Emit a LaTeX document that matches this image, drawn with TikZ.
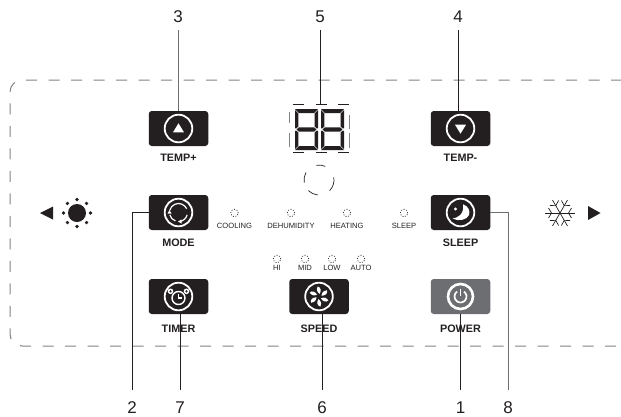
\documentclass[tikz,border=0pt]{standalone}
\usepackage{fontspec}
\setmainfont{Liberation Sans}
\usetikzlibrary{positioning}
\definecolor{inkblack}{HTML}{231F20}
\definecolor{powergray}{HTML}{6D6E71}
\definecolor{panelgray}{HTML}{808285}
\begin{document}
\begin{tikzpicture}[x=1pt,y=1pt,line cap=butt]
    \tikzstyle{button}=[rectangle,rounded corners=3pt,fill=inkblack,minimum width=59.5pt,minimum height=35pt,inner sep=0pt]
    \tikzstyle{button label}=[font=\bfseries\fontsize{10.8}{11}\selectfont,text=inkblack,inner sep=0pt]
    \tikzstyle{led label}=[font=\fontsize{7.6}{8}\selectfont,text=inkblack,inner sep=0pt]
    \tikzstyle{led}=[circle,draw=inkblack,line width=0.7pt,dash pattern=on 1pt off 1.6pt,minimum size=7.5pt,inner sep=0pt]
    \tikzstyle{callout}=[font=\fontsize{17}{18}\selectfont,text=inkblack,inner sep=0pt]
    \tikzstyle{leader}=[draw=inkblack,line width=0.8pt]
    \tikzstyle{leader gray}=[draw=powergray,line width=1pt]
    \tikzstyle{ring}=[draw=white,line width=1.8pt]
    \tikzstyle{icon}=[draw=white,line width=1.2pt]
    \tikzstyle{segment}=[fill=inkblack]
    \tikzstyle{ghost}=[draw=panelgray,line width=1pt]
    \useasboundingbox (0,0) rectangle (621,-416);

    % Draw the panel outline
    \draw[panelgray,line width=1pt,dash pattern=on 11pt off 11.5pt,dash phase=1pt,rounded corners=12pt]
        (621,-80) -- (10,-80) -- (10,-346) -- (621,-346);

    % Draw the buttons and their labels
    \foreach \name / \x / \y in {tempup/178.5/128.5,tempdown/460.5/128.5,mode/178.5/212.5,sleep/460.5/212.5,timer/178.5/296.5,speed/319/296.5}
        \node[button] (B-\name) at (\x,-\y) {};
    \node[button,fill=powergray] (B-power) at (460.5,-296.5) {};
    \node[button label] (T-tempup) at (178.5,-158) {TEMP+};
    \node[button label] (T-tempdown) at (460.5,-158) {TEMP-};
    \node[button label] (T-mode) at (178.5,-243) {MODE};
    \node[button label] (T-sleep) at (460.5,-243) {SLEEP};
    \node[button label] (T-timer) at (178.5,-329) {TIMER};
    \node[button label] (T-speed) at (319,-329) {SPEED};
    \node[button label] (T-power) at (460.5,-329) {POWER};

    % Draw the rings of the button icons
    \foreach \name in {tempup,tempdown,mode,sleep,timer,speed}
        \draw[ring] (B-\name.center) circle (13.8);

    % Temperature arrows
    \begin{scope}[shift={(B-tempup.center)}]
        \fill[white] (-5.5,-3.8) -- (5.5,-3.8) -- (0,5.2) -- cycle;
    \end{scope}
    \begin{scope}[shift={(B-tempdown.center)}]
        \fill[white] (-5.5,3.8) -- (5.5,3.8) -- (0,-5.2) -- cycle;
    \end{scope}

    % Mode icon
    \begin{scope}[shift={(B-mode.center)}]
        \draw[icon] (25:9) arc (25:165:9);
        \draw[icon] (195:9) arc (195:250:9);
        \draw[icon] (280:9) arc (280:345:9);
        \fill[white] (-11,-1) -- (-7,-1) -- (-9,2.5) -- cycle;
        \fill[white] (3,-7) -- (3,-11) -- (-0.5,-9) -- cycle;
    \end{scope}

    % Sleep icon
    \begin{scope}[shift={(B-sleep.center)}]
        \fill[white] (2.5,8.2) .. controls (8,6.5) and (10,1) .. (8.5,-2.5) .. controls (7,-7) and (-2,-9.5) .. (-8,-6) .. controls (-3,-5.5) and (4,-2) .. cycle;
        \fill[white] (-5,3.5) circle (1.6);
    \end{scope}

    % Timer icon
    \begin{scope}[shift={(B-timer.center)}]
        \draw[icon,line width=1.4pt] (0,-1.5) circle (6.5);
        \draw[icon] (0,3) -- (0,-1.5) -- (3.8,-1.5);
        \foreach \s in {-1,1}
        {
            \fill[white] (\s*8,5.2) circle (2.8);
            \fill[inkblack] (\s*8,5.2) circle (1.2);
        }
    \end{scope}

    % Speed icon
    \begin{scope}[shift={(B-speed.center)}]
        \foreach \a in {30,90,...,330}
            \fill[white,rotate=\a] (2.5,-0.5) .. controls (5,2.5) and (8,2.8) .. (10,1.5) .. controls (9.5,-2) and (5.5,-2.5) .. cycle;
    \end{scope}

    % Power icon
    \begin{scope}[shift={(B-power.center)}]
        \draw[ring,line width=2.6pt] (0,0) circle (12.5);
        \draw[ring,line width=1.7pt] (55:6) arc (55:-235:6);
        \draw[ring,line width=1.7pt] (0,1) -- (0,8);
    \end{scope}

    % Draw the two digits of the display
    \foreach \x in {295,321}
    {
        \begin{scope}[shift={(\x,-109)}]
            \fill[segment] (0,0) -- (23,0) -- (19,-4) -- (4,-4) -- cycle;
            \fill[segment] (0,-41) -- (23,-41) -- (19,-37) -- (4,-37) -- cycle;
            \fill[segment] (1.5,-20.5) -- (4,-18.3) -- (19,-18.3) -- (21.5,-20.5) -- (19,-22.7) -- (4,-22.7) -- cycle;
            \fill[segment] (0,-1) -- (3.4,-4.4) -- (3.4,-17.5) -- (1,-19.5) -- (0,-19) -- cycle;
            \fill[segment] (23,-1) -- (19.6,-4.4) -- (19.6,-17.5) -- (22,-19.5) -- (23,-19) -- cycle;
            \fill[segment] (0,-40) -- (3.4,-36.6) -- (3.4,-23.5) -- (1,-21.5) -- (0,-22) -- cycle;
            \fill[segment] (23,-40) -- (19.6,-36.6) -- (19.6,-23.5) -- (22,-21.5) -- (23,-22) -- cycle;
        \end{scope}
    }

    % Draw the marks round the display
    \foreach \x in {293,316,338}
    {
        \draw[inkblack,line width=0.9pt] (\x,-104.5) -- ++(11,0);
        \draw[inkblack,line width=0.9pt] (\x,-152) -- ++(11,0);
    }
    \draw[ghost] (289,-112) -- (289,-123);
    \draw[ghost] (289,-133) -- (289,-147);
    \draw[ghost] (349,-115) -- (349,-129);
    \draw[ghost] (349,-133) -- (349,-148);

    % Draw the broken circle below the display
    \begin{scope}[shift={(319,-180)}]
        \draw[inkblack,line width=0.7pt] (65:15) arc (65:100:15);
        \draw[inkblack,line width=0.7pt] (150:15) arc (150:190:15);
        \draw[inkblack,line width=0.7pt] (10:15) arc (10:-45:15);
        \draw[inkblack,line width=0.7pt] (225:15) arc (225:265:15);
    \end{scope}

    % Draw the indicator lights
    \foreach \name / \x / \txt in {cooling/234.5/COOLING,dehumidity/291/DEHUMIDITY,heating/347/HEATING,sleep/404/SLEEP}
    {
        \node[led] (L-\name) at (\x,-213) {};
        \node[led label] (M-\name) at (\x,-226) {\txt};
    }
    \foreach \name / \x / \txt in {hi/277/HI,mid/305/MID,low/332/LOW,auto/361/AUTO}
    {
        \node[led] (L-\name) at (\x,-259) {};
        \node[led label] (M-\name) at (\x,-268) {\txt};
    }

    % Sun and left arrow
    \fill[inkblack] (40,-213) -- (53,-206.5) -- (53,-219.5) -- cycle;
    \fill[inkblack] (77,-213) circle (9);
    \foreach \a in {0,45,...,315}
        \fill[inkblack] (77,-213) ++(\a:13.5) circle (1.8);

    % Snowflake and right arrow
    \fill[inkblack] (600.5,-213) -- (588,-206) -- (588,-220) -- cycle;
    \begin{scope}[shift={(560,-213)}]
        \foreach \a in {0,60,...,300}
        {
            \draw[inkblack,line width=0.7pt,rotate=\a] (0,0) -- (15,0);
            \draw[inkblack,line width=0.7pt,rotate=\a] (11.5,5) -- (8.5,0) -- (11.5,-5);
        }
    \end{scope}

    % Draw the callout numbers
    \node[callout] (C-3) at (178,-17) {3};
    \node[callout] (C-4) at (458,-17) {4};
    \node[callout] (C-5) at (320,-17) {5};
    \node[callout] (C-2) at (132,-407.5) {2};
    \node[callout] (C-7) at (180,-407.5) {7};
    \node[callout] (C-6) at (322,-407.5) {6};
    \node[callout] (C-1) at (460.5,-407.5) {1};
    \node[callout] (C-8) at (508,-407.5) {8};

    % Connect every callout with its button
    \draw[leader gray,shorten <=7pt] (C-3.south) -- (C-3.south |- B-tempup.north);
    \draw[leader,shorten <=7pt] (C-4.south) -- (C-4.south |- B-tempdown.north);
    \draw[leader,shorten <=7pt,shorten >=1pt] (C-5.south) -- (320,-104.5);
    \draw[leader,shorten <=11.5pt] (C-2.north) -- (C-2.north |- B-mode.west) -- (B-mode.west);
    \draw[leader,shorten <=11.5pt] (C-7.north) -- (C-7.north |- B-timer.south);
    \draw[leader,shorten <=11.5pt] (C-6.north) -- (C-6.north |- B-speed.south);
    \draw[leader,shorten <=11.5pt] (C-1.north) -- (C-1.north |- B-power.south);
    \draw[leader gray,shorten <=11.5pt] (C-8.north) -- (C-8.north |- B-sleep.east) -- (B-sleep.east);

\end{tikzpicture}
\end{document}
